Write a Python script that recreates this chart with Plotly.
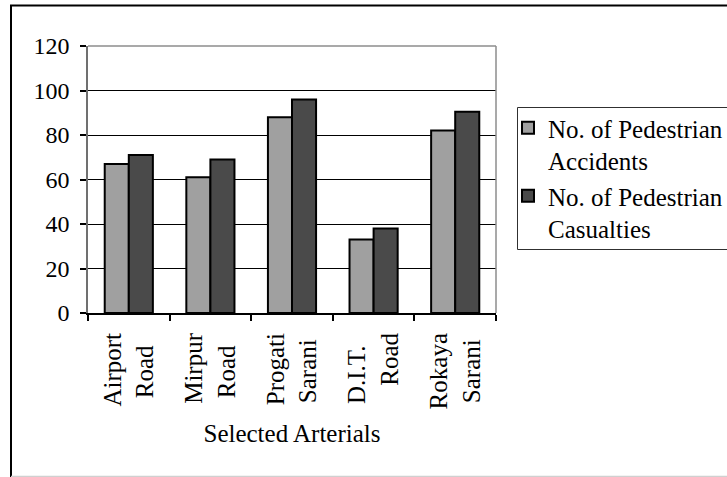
import plotly.graph_objects as go

NB = "\u00a0"
# two-line category labels; trailing no-break spaces centre the shorter line under the longer one
categories = [
    "Airport<br>Road" + NB * 2,
    "Mirpur<br>Road" + NB * 2,
    "Progati<br>Sarani" + NB,
    "D.I.T." + NB * 2 + "<br>Road",
    "Rokaya<br>Sarani" + NB,
]
accidents = [67, 61, 88, 33, 82]
casualties = [71, 69, 96, 38, 90.5]
series_names = ["No. of Pedestrian<br>Accidents", "No. of Pedestrian<br>Casualties"]
y_ticks = [0, 20, 40, 60, 80, 100, 120]

W, H = 727, 477
L, R, T, B = 88, 496, 46, 313  # plot area in px


def px_x(p):
    return (p - L) / (R - L)


def px_y(p):
    return (B - p) / (B - T)


FONT = "Liberation Serif"

fig = go.Figure()
fig.add_trace(go.Bar(x=categories, y=accidents, name=series_names[0],
                     marker=dict(color="#A0A0A0", line=dict(color="#000000", width=2))))
fig.add_trace(go.Bar(x=categories, y=casualties, name=series_names[1],
                     marker=dict(color="#4A4A4A", line=dict(color="#000000", width=2))))

shapes = [
    # plot border (top/right) in gray
    dict(type="line", xref="paper", yref="paper", x0=0, x1=1, y0=1, y1=1,
         line=dict(color="#8C8C8C", width=1.5), layer="above"),
    dict(type="line", xref="paper", yref="paper", x0=1, x1=1, y0=0, y1=1,
         line=dict(color="#8C8C8C", width=1.5), layer="above"),
    # outer chart frame
    dict(type="line", xref="paper", yref="paper", x0=px_x(11), x1=px_x(11), y0=px_y(5.5), y1=px_y(480),
         line=dict(color="#000000", width=2)),
    dict(type="line", xref="paper", yref="paper", x0=px_x(10), x1=px_x(740), y0=px_y(5.5), y1=px_y(5.5),
         line=dict(color="#000000", width=2)),
    dict(type="line", xref="paper", yref="paper", x0=px_x(11), x1=px_x(740), y0=px_y(476.5), y1=px_y(476.5),
         line=dict(color="#D0D0D0", width=1.5)),
    # legend frame
    dict(type="rect", xref="paper", yref="paper", x0=px_x(517.5), x1=px_x(745), y0=px_y(107.5), y1=px_y(249.5),
         line=dict(color="#303030", width=1)),
]

fig.update_layout(
    width=W, height=H,
    margin=dict(l=L, r=W - R, t=T, b=H - B, pad=0),
    paper_bgcolor="white", plot_bgcolor="white",
    font=dict(family=FONT, size=25, color="#000000"),
    barmode="group", bargap=0.41, bargroupgap=0,
    showlegend=True,
    legend=dict(xref="container", yref="container",
                x=508 / W, y=1 - 105 / H, xanchor="left", yanchor="top",
                borderwidth=0, bgcolor="rgba(0,0,0,0)",
                font=dict(family=FONT, size=25, color="#000000"),
                valign="top", tracegroupgap=0),
    shapes=shapes,
    xaxis=dict(
        showline=True, linecolor="#000000", linewidth=2,
        ticks="outside", ticklen=6, tickcolor="#000000", tickwidth=1.5,
        tickson="boundaries", tickangle=-90, showgrid=False,
        ticklabelstandoff=8,
        tickfont=dict(family=FONT, size=25),
        title=dict(text="Selected Arterials", font=dict(family=FONT, size=25), standoff=16),
    ),
    yaxis=dict(
        range=[0, 120], tickvals=y_ticks,
        showline=True, linecolor="#707070", linewidth=1.5,
        ticks="outside", ticklen=6, tickcolor="#000000", tickwidth=1.5,
        ticklabelstandoff=6,
        showgrid=True, gridcolor="#000000", gridwidth=1, zeroline=False,
        tickfont=dict(family=FONT, size=24),
    ),
)

fig.write_html("out.html")
